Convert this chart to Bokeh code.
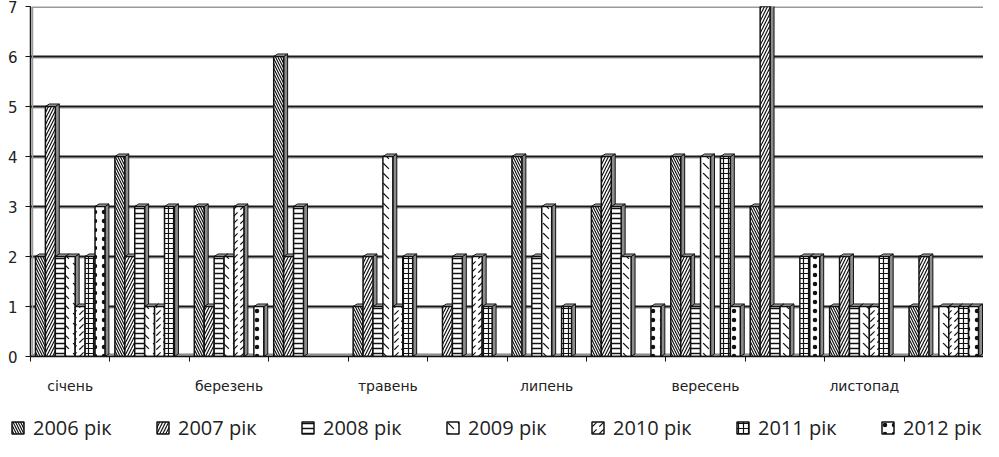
from bokeh.plotting import figure
from bokeh.models import FixedTicker, Legend, LegendItem
from bokeh.layouts import column
from bokeh.embed import file_html
from bokeh.resources import INLINE

months = ["січень", "лютий", "березень", "квітень", "травень", "червень",
          "липень", "серпень", "вересень", "жовтень", "листопад", "грудень"]
series = ["2006 рік", "2007 рік", "2008 рік", "2009 рік", "2010 рік", "2011 рік", "2012 рік"]
v2006 = [2, 4, 3, 6, 1, 0, 4, 3, 4, 3, 1, 1]
v2007 = [5, 2, 1, 2, 2, 1, 0, 4, 2, 7, 2, 2]
v2008 = [2, 3, 2, 3, 1, 2, 2, 3, 1, 1, 1, 0]
v2009 = [2, 1, 2, 0, 4, 0, 3, 2, 4, 1, 1, 1]
v2010 = [1, 1, 3, 0, 1, 2, 0, 0, 0, 0, 1, 1]
v2011 = [2, 3, 0, 0, 2, 1, 1, 0, 4, 2, 2, 1]
v2012 = [3, 0, 1, 0, 0, 0, 0, 1, 1, 2, 0, 1]
data = [v2006, v2007, v2008, v2009, v2010, v2011, v2012]
y_ticks = [0, 1, 2, 3, 4, 5, 6, 7]

patterns = [("left_diagonal_line", 5, 1.2),
            ("right_diagonal_line", 6, 1.2),
            ("horizontal_line", 5, 1.5),
            ("left_diagonal_dash", 10, 1.2),
            ("right_diagonal_dash", 7, 1.2),
            ("cross", 5, 1.2),
            ("dot", 9, 1.6)]

n = len(months)
p = figure(width=983, height=400, x_range=(0, n), y_range=(0, 7),
           output_backend="svg", toolbar_location=None,
           min_border_left=30, min_border_right=0, min_border_top=6, min_border_bottom=44)
p.outline_line_color = None
p.background_fill_color = "white"
p.xgrid.grid_line_color = None
p.ygrid.grid_line_color = None

W = 1 / 8
OFF = 1 / 16
DX = 0.05
DY = 0.05

# floor
p.patch([0, n, n + DX, DX], [0, 0, DY, DY], fill_color="#a0a0a0", line_color="#808080", line_width=1)
# back wall gridlines
for t in y_ticks[1:-1]:
    p.line([0, n], [t - 0.03, t - 0.03], line_color="#9a9a9a", line_width=1.2)
    p.line([0, n], [t, t], line_color="#1a1a1a", line_width=1.8)
p.line([DX / 2, n], [7 - 0.01, 7 - 0.01], line_color="#9a9a9a", line_width=2)
p.line([DX / 2, DX / 2], [0, 7], line_color="#9a9a9a", line_width=1.5)

# legend figure (no axes)
lf = figure(frame_width=983, frame_height=41, output_backend="svg", toolbar_location=None,
            x_range=(0, n), y_range=(0, 7), x_axis_location=None, y_axis_location=None,
            min_border_left=0, min_border_right=0, min_border_top=0, min_border_bottom=0)
lf.outline_line_color = None
lf.grid.visible = False

items = []
for j, (name, vals) in enumerate(zip(series, data)):
    L = [i + OFF + j * W for i, v in enumerate(vals) if v > 0]
    V = [v for v in vals if v > 0]
    sx = [[l + W, l + W + DX, l + W + DX, l + W] for l in L]
    sy = [[0, DY, v + DY, v] for v in V]
    p.patches(sx, sy, fill_color="#8c8c8c", line_color="#111111", line_width=1)
    tx = [[l, l + DX, l + W + DX, l + W] for l in L]
    ty = [[v, v + DY, v + DY, v] for v in V]
    p.patches(tx, ty, fill_color="#b0b0b0", line_color="#111111", line_width=1)
    pat, sc, wt = patterns[j]
    style = dict(fill_color="white", line_color="#111111", line_width=1.5,
                 hatch_pattern=pat, hatch_scale=sc, hatch_weight=wt, hatch_color="#111111")
    p.quad(left=L, right=[l + W for l in L], bottom=0, top=V, **style)
    rl = lf.quad(left=L, right=[l + W for l in L], bottom=0, top=V, visible=False, **style)
    items.append(LegendItem(label=name, renderers=[rl]))

# axes
p.yaxis.ticker = FixedTicker(ticks=y_ticks)
p.yaxis.axis_line_color = "#111111"
p.yaxis.axis_line_width = 1.5
p.yaxis.major_tick_out = 5
p.yaxis.major_tick_in = 0
p.yaxis.minor_tick_line_color = None
p.yaxis.major_tick_line_color = "#111111"
p.yaxis.major_label_text_font = "DejaVu Sans"
p.yaxis.major_label_text_font_size = "15px"
p.yaxis.major_label_text_color = "#222222"
p.yaxis.major_label_standoff = 8

centers = [i + 0.5 for i in range(n)][0::2]
p.xaxis.ticker = FixedTicker(ticks=centers, minor_ticks=list(range(n + 1)))
p.xaxis.major_label_overrides = {c: m for c, m in zip(centers, months[0::2])}
p.xaxis.axis_line_color = "#111111"
p.xaxis.axis_line_width = 1.5
p.xaxis.major_tick_out = 0
p.xaxis.major_tick_in = 0
p.xaxis.major_tick_line_color = None
p.xaxis.minor_tick_out = 5
p.xaxis.minor_tick_in = 0
p.xaxis.minor_tick_line_color = "#111111"
p.xaxis.major_label_text_font = "DejaVu Sans"
p.xaxis.major_label_text_font_size = "14px"
p.xaxis.major_label_text_color = "#222222"
p.xaxis.major_label_standoff = 16

legend = Legend(items=items, location=(10, 0), orientation="horizontal",
                glyph_width=15, glyph_height=15, label_standoff=8, label_width=100,
                label_height=15, spacing=22, padding=0, margin=0,
                label_text_font="Open Sans", label_text_font_size="20px",
                label_text_color="#222222", border_line_color=None,
                background_fill_alpha=0, inactive_fill_alpha=0)
lf.add_layout(legend)

layout = column(p, lf, spacing=0)
open("out.html", "w").write(file_html(layout, INLINE))
